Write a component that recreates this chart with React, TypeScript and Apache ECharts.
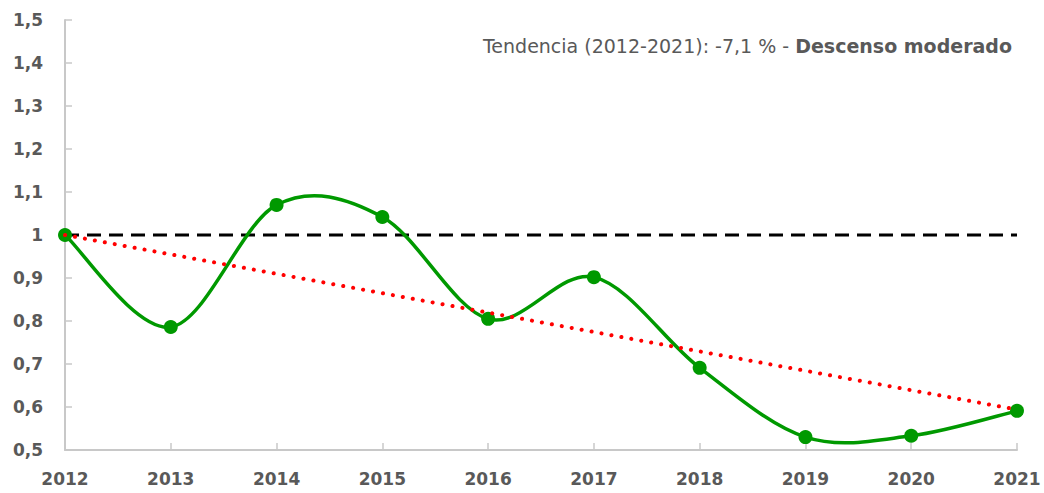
import React, { useEffect, useRef } from "react";
import * as echarts from "echarts";

const years = ["2012", "2013", "2014", "2015", "2016", "2017", "2018", "2019", "2020", "2021"];
const values = [1.0, 0.786, 1.07, 1.042, 0.805, 0.902, 0.691, 0.53, 0.533, 0.591];
const referenceValue = 1;
const trendStart = 1.0;
const trendEnd = 0.594;
const trendText = "Tendencia (2012-2021): -7,1 % - ";
const trendLabel = "Descenso moderado";

const FONT = "'DejaVu Sans', Verdana, sans-serif";
const TXT = "#595959";
const GREEN = "#009900";

export default function App() {
  const ref = useRef<HTMLDivElement>(null);
  useEffect(() => {
    document.body.style.margin = "0";
    const chart = echarts.init(ref.current!, undefined, { renderer: "svg" });
    const n = values.length;
    chart.setOption({
      animation: false,
      grid: { left: 65, right: 27, top: 20, bottom: 43 },
      title: {
        text: `{a|${trendText}}{b|${trendLabel}}`,
        right: 27,
        top: 31,
        textStyle: {
          rich: {
            a: { fontFamily: FONT, fontSize: 19, color: TXT, fontWeight: "normal" },
            b: { fontFamily: FONT, fontSize: 19, color: TXT, fontWeight: "bold" },
          },
        },
      },
      xAxis: {
        type: "category",
        data: years,
        boundaryGap: false,
        axisLine: { lineStyle: { color: "#c8c8c8", width: 2 } },
        axisTick: { inside: true, length: 7, lineStyle: { color: "#c8c8c8", width: 1.5 } },
        axisLabel: { color: TXT, fontFamily: FONT, fontWeight: "bold", fontSize: 17, margin: 20 },
        splitLine: { show: false },
      },
      yAxis: {
        type: "value",
        min: 0.5,
        max: 1.5,
        interval: 0.1,
        axisLine: { show: true, lineStyle: { color: "#c8c8c8", width: 2 } },
        axisTick: { show: true, inside: true, length: 7, lineStyle: { color: "#c8c8c8", width: 1.5 } },
        axisLabel: {
          color: TXT,
          fontFamily: FONT,
          fontWeight: "bold",
          fontSize: 17,
          margin: 22,
          formatter: (v: number) => String(Number(v.toFixed(1))).replace(".", ","),
        },
        splitLine: { show: false },
      },
      series: [
        {
          type: "line",
          data: years.map(() => referenceValue),
          symbol: "none",
          lineStyle: { color: "#000", width: 3, type: [14, 8] },
          z: 2,
        },
        {
          type: "custom",
          data: values.map((v, i) => [i, v]),
          encode: { x: 0, y: 1 },
          z: 3,
          renderItem: (params: any, api: any) => {
            const i = params.dataIndex;
            if (i >= n - 1) return null;
            const c = (k: number) => api.coord([k, values[k]]);
            const p0 = c(Math.max(i - 1, 0));
            const p1 = c(i);
            const p2 = c(i + 1);
            const p3 = c(Math.min(i + 2, n - 1));
            return {
              type: "bezierCurve",
              shape: {
                x1: p1[0],
                y1: p1[1],
                x2: p2[0],
                y2: p2[1],
                cpx1: p1[0] + (p2[0] - p0[0]) / 6,
                cpy1: p1[1] + (p2[1] - p0[1]) / 6,
                cpx2: p2[0] - (p3[0] - p1[0]) / 6,
                cpy2: p2[1] - (p3[1] - p1[1]) / 6,
              },
              style: { stroke: GREEN, lineWidth: 3.5, fill: "none" },
            };
          },
        },
        {
          type: "line",
          data: values,
          symbol: "circle",
          symbolSize: 14,
          itemStyle: { color: GREEN },
          lineStyle: { width: 0, opacity: 0 },
          z: 4,
        },
        {
          type: "line",
          data: [
            [0, trendStart],
            [n - 1, trendEnd],
          ],
          symbol: "none",
          lineStyle: { color: "#ff0000", width: 4, type: [0.1, 10], cap: "round" },
          z: 5,
        },
      ],
    });
    return () => chart.dispose();
  }, []);
  return <div ref={ref} style={{ width: 1044, height: 493 }} />;
}
